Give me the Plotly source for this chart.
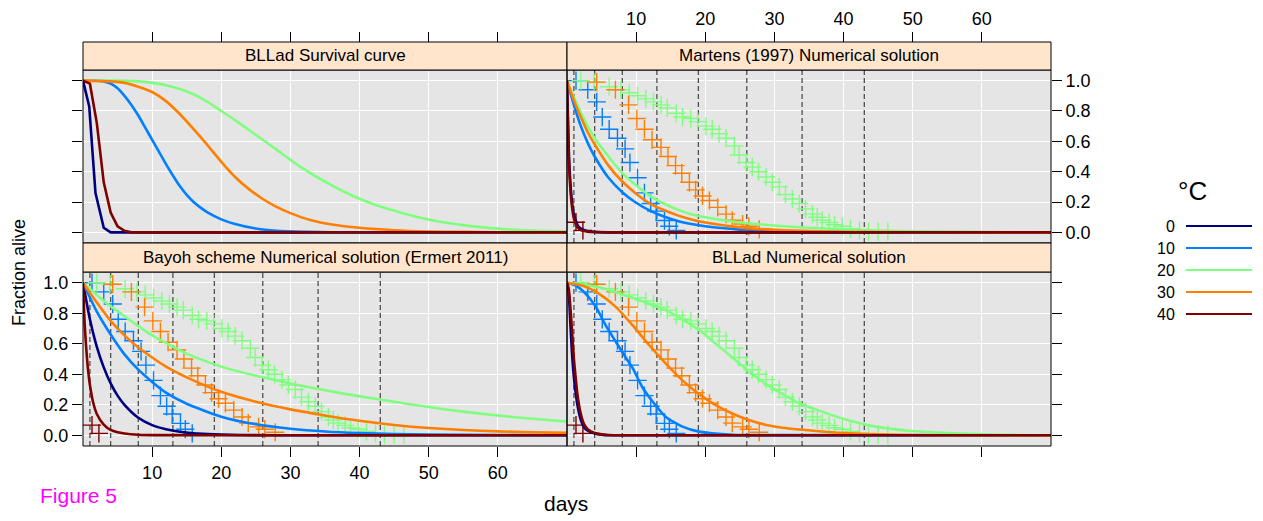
import plotly.graph_objects as go

W, H = 1263, 521
FONT = "Liberation Sans, Arial, Helvetica, sans-serif"

temps = ["0", "10", "20", "30", "40"]
colors = ["#00007F", "#007FFF", "#7FFF7F", "#FF7F00", "#7F0000"]
panel_titles = ["BLLad Survival curve",
                "Martens (1997) Numerical solution",
                "Bayoh scheme Numerical solution (Ermert 2011)",
                "BLLad Numerical solution"]
x_ticks = [10, 20, 30, 40, 50, 60]
y_ticks = [0.0, 0.2, 0.4, 0.6, 0.8, 1.0]
x_range = [0, 70]
y_range = [-0.07, 1.07]
obs_dates = [1, 4, 8, 13, 19, 26, 34, 43]

# ---- Panel 1: BLLad Survival curve
A0_d = [0, 0.9, 1.8, 3.0, 4.0, 70]
A0_f = [1, 0.83, 0.26, 0.03, 0.0, 0.0]
A10_d = [0, 2, 3, 4, 5, 6, 7, 8, 9, 10, 11, 12, 13, 14, 15, 16, 17, 18, 20, 22, 25, 28, 32, 36, 70]
A10_f = [1, 1.0, 0.995, 0.98, 0.95, 0.9, 0.84, 0.77, 0.69, 0.61, 0.53, 0.45, 0.375, 0.305, 0.247, 0.2, 0.163, 0.132, 0.086, 0.055, 0.025, 0.01, 0.003, 0.001, 0]
A20_d = [0, 5, 8, 10, 12, 14, 16, 18, 20, 22, 24, 26, 28, 30, 32, 34, 36, 38, 40, 43, 46, 50, 55, 60, 65, 70]
A20_f = [1, 1.0, 0.995, 0.985, 0.97, 0.945, 0.91, 0.86, 0.80, 0.74, 0.675, 0.61, 0.545, 0.478, 0.415, 0.36, 0.31, 0.263, 0.222, 0.17, 0.13, 0.085, 0.048, 0.025, 0.012, 0.006]
A30_d = [0, 4, 6, 8, 10, 12, 14, 16, 18, 20, 22, 24, 26, 28, 30, 33, 36, 40, 45, 50, 55, 60, 70]
A30_f = [1, 0.995, 0.985, 0.96, 0.925, 0.865, 0.78, 0.68, 0.575, 0.465, 0.365, 0.285, 0.22, 0.168, 0.127, 0.08, 0.052, 0.03, 0.014, 0.006, 0.003, 0.001, 0]
A40_d = [0, 1.0, 2.0, 3.0, 4.0, 5.0, 6.0, 7.0, 70]
A40_f = [1, 0.98, 0.72, 0.33, 0.13, 0.04, 0.01, 0.0, 0.0]

# ---- Panel 2: Martens (1997) Numerical solution
B0_d = [0, 0.25, 0.5, 0.75, 1, 1.5, 2, 3, 4, 6, 70]
B0_f = [1, 0.55, 0.32, 0.19, 0.12, 0.05, 0.025, 0.008, 0.003, 0, 0]
B10_d = [0, 1, 2, 3, 4, 6, 8, 10, 12, 14, 16, 18, 20, 25, 30, 40, 70]
B10_f = [1, 0.84, 0.70, 0.59, 0.50, 0.36, 0.265, 0.195, 0.143, 0.104, 0.075, 0.055, 0.04, 0.018, 0.008, 0.002, 0]
B20_d = [0, 1, 2, 3, 4, 6, 8, 10, 12, 14, 16, 18, 20, 25, 30, 35, 40, 45, 50, 60, 70]
B20_f = [1, 0.89, 0.79, 0.70, 0.62, 0.50, 0.39, 0.31, 0.24, 0.19, 0.15, 0.12, 0.10, 0.065, 0.045, 0.03, 0.02, 0.012, 0.007, 0.002, 0]
B30_d = [0, 1, 2, 3, 4, 6, 8, 10, 12, 14, 16, 18, 20, 25, 30, 35, 40, 50, 70]
B30_f = [1, 0.87, 0.76, 0.66, 0.58, 0.44, 0.335, 0.255, 0.19, 0.147, 0.112, 0.085, 0.065, 0.033, 0.017, 0.009, 0.004, 0.001, 0]
B40_d = [0, 0.25, 0.5, 0.75, 1, 1.5, 2, 3, 4, 6, 70]
B40_f = [1, 0.5, 0.28, 0.16, 0.09, 0.035, 0.015, 0.005, 0.002, 0, 0]

# ---- Panel 3: Bayoh scheme Numerical solution (Ermert 2011)
C0_d = [0, 1, 2, 3, 4, 5, 6, 8, 10, 12, 14, 16, 18, 20, 25, 30, 70]
C0_f = [1, 0.76, 0.58, 0.445, 0.34, 0.26, 0.2, 0.115, 0.067, 0.04, 0.023, 0.013, 0.008, 0.0045, 0.001, 0, 0]
C10_d = [0, 2, 4, 6, 8, 10, 12, 15, 20, 25, 30, 35, 40, 45, 50, 60, 70]
C10_f = [1, 0.81, 0.66, 0.53, 0.43, 0.35, 0.28, 0.207, 0.122, 0.072, 0.043, 0.025, 0.015, 0.009, 0.005, 0.002, 0.001]
C20_d = [0, 2, 4, 6, 8, 10, 12, 15, 20, 25, 30, 35, 40, 45, 50, 55, 60, 65, 70]
C20_f = [1, 0.92, 0.845, 0.78, 0.715, 0.655, 0.605, 0.535, 0.45, 0.39, 0.34, 0.295, 0.255, 0.22, 0.185, 0.155, 0.13, 0.108, 0.09]
C30_d = [0, 2, 4, 6, 8, 10, 12, 15, 20, 25, 30, 35, 40, 45, 50, 55, 60, 65, 70]
C30_f = [1, 0.87, 0.75, 0.655, 0.575, 0.51, 0.45, 0.38, 0.285, 0.22, 0.17, 0.13, 0.095, 0.068, 0.048, 0.035, 0.026, 0.02, 0.016]
C40_d = [0, 0.25, 0.5, 0.75, 1, 1.5, 2, 3, 4, 5, 6, 8, 10, 70]
C40_f = [1, 0.72, 0.55, 0.42, 0.33, 0.21, 0.14, 0.07, 0.035, 0.02, 0.012, 0.004, 0.001, 0]

# ---- Panel 4: BLLad Numerical solution
D0_d = [0, 0.25, 0.5, 0.75, 1, 1.25, 1.5, 2, 2.5, 3, 4, 5, 6, 70]
D0_f = [1, 0.93, 0.72, 0.52, 0.38, 0.28, 0.2, 0.1, 0.05, 0.03, 0.012, 0.004, 0, 0]
D10_d = [0, 1.3, 2.75, 4.2, 5.6, 7.1, 8.5, 9.5, 10.9, 12.4, 14.3, 16.7, 19.1, 23.9, 30, 70]
D10_f = [1, 0.98, 0.925, 0.84, 0.72, 0.61, 0.51, 0.44, 0.315, 0.22, 0.12, 0.057, 0.024, 0.004, 0.001, 0]
D20_d = [0, 4.7, 9.5, 14.3, 19.1, 21.5, 23.9, 26.3, 28.8, 31.2, 33.6, 36, 39.8, 44.6, 49.4, 54.2, 59, 63.8, 70]
D20_f = [1, 0.97, 0.90, 0.82, 0.69, 0.60, 0.51, 0.42, 0.335, 0.27, 0.21, 0.17, 0.11, 0.057, 0.03, 0.017, 0.008, 0.003, 0]
D30_d = [0, 2.3, 4.7, 7.1, 9.5, 11.9, 14.3, 16.7, 19.1, 21.5, 23.9, 26.3, 28.8, 31.2, 33.6, 36, 40, 45, 50, 60, 70]
D30_f = [1, 0.98, 0.925, 0.84, 0.72, 0.59, 0.47, 0.36, 0.27, 0.198, 0.143, 0.1, 0.068, 0.05, 0.038, 0.028, 0.015, 0.006, 0.002, 0, 0]
D40_d = [0, 0.25, 0.5, 0.75, 1, 1.25, 1.5, 2, 2.5, 3, 4, 5, 6, 8, 70]
D40_f = [1, 0.96, 0.83, 0.67, 0.5, 0.38, 0.27, 0.14, 0.07, 0.04, 0.015, 0.006, 0.002, 0, 0]

# ---- Observations (same in panels 2-4)
obs10_d = [1.3, 3.0, 4.3, 5.1, 6.1, 7.3, 8.4, 9.1, 10.2, 11.2, 12.1, 12.9, 14.1, 14.8, 15.8]
obs10_f = [1.0, 0.94, 0.86, 0.76, 0.68, 0.62, 0.55, 0.46, 0.36, 0.26, 0.19, 0.14, 0.078, 0.04, 0.013]
obs20_d = [2.0, 3.9, 6.1, 7.8, 9.0, 10.2, 11.4, 12.5, 13.6, 14.5, 15.8, 16.7, 17.9, 18.9, 20.1, 21.0,
           22.0, 23.0, 24.2, 24.9, 25.9, 26.8, 27.7, 28.8, 29.7, 30.7, 31.6, 32.6, 33.6, 34.5, 35.5,
           36.2, 36.9, 37.9, 38.7, 39.8, 41.0, 42.3, 43.6, 45.0, 46.4]
obs20_f = [1.0, 0.99, 0.96, 0.94, 0.92, 0.90, 0.88, 0.86, 0.84, 0.82, 0.785, 0.76, 0.75, 0.73, 0.70, 0.68,
           0.65, 0.62, 0.57, 0.51, 0.46, 0.43, 0.40, 0.365, 0.33, 0.30, 0.25, 0.22, 0.19, 0.155, 0.12,
           0.10, 0.08, 0.065, 0.05, 0.04, 0.025, 0.013, 0.005, 0.005, 0.005]
obs30_d = [4.3, 7.0, 8.9, 10.1, 11.2, 12.3, 13.6, 14.6, 15.7, 16.6, 17.7, 18.6, 19.6, 20.6, 21.8, 23.0,
           23.9, 25.4, 26.3, 27.8]
obs30_f = [0.99, 0.94, 0.84, 0.75, 0.68, 0.61, 0.56, 0.50, 0.44, 0.39, 0.33, 0.28, 0.24, 0.21, 0.165, 0.12,
           0.08, 0.055, 0.04, 0.02]
obs40_d = [1.3, 2.3]
obs40_f = [0.067, 0.013]

curves = {
    1: [(A0_d, A0_f), (A10_d, A10_f), (A20_d, A20_f), (A30_d, A30_f), (A40_d, A40_f)],
    2: [(B0_d, B0_f), (B10_d, B10_f), (B20_d, B20_f), (B30_d, B30_f), (B40_d, B40_f)],
    3: [(C0_d, C0_f), (C10_d, C10_f), (C20_d, C20_f), (C30_d, C30_f), (C40_d, C40_f)],
    4: [(D0_d, D0_f), (D10_d, D10_f), (D20_d, D20_f), (D30_d, D30_f), (D40_d, D40_f)],
}
observations = [None, (obs10_d, obs10_f), (obs20_d, obs20_f), (obs30_d, obs30_f), (obs40_d, obs40_f)]

# ---- layout geometry (pixels -> paper)
def fx(p):
    return p / W

def fy(p):
    return 1 - p / H

col_dom = [[fx(83), fx(567)], [fx(567), fx(1051)]]
row_dom = [[fy(243), fy(70)], [fy(446), fy(272)]]
strip_dom = [[fy(70), fy(42)], [fy(272), fy(243)]]
pos = {1: (0, 0), 2: (1, 0), 3: (0, 1), 4: (1, 1)}

fig = go.Figure()

for p in (1, 2, 3, 4):
    xa = "x" if p == 1 else f"x{p}"
    ya = "y" if p == 1 else f"y{p}"
    if p != 1:
        vx, vy = [], []
        for d in obs_dates:
            vx += [d, d, None]
            vy += [y_range[0], y_range[1], None]
        fig.add_trace(go.Scatter(
            x=vx, y=vy, mode="lines", xaxis=xa, yaxis=ya,
            line=dict(color="#505050", width=1.3, dash="5px,3px"),
            showlegend=False, hoverinfo="skip", connectgaps=False))
        for i, obs in enumerate(observations):
            if obs is None:
                continue
            fig.add_trace(go.Scatter(
                x=obs[0], y=obs[1], mode="markers", xaxis=xa, yaxis=ya,
                marker=dict(symbol="cross-thin", size=13, color=colors[i],
                            line=dict(color=colors[i], width=1.4)),
                showlegend=False, hoverinfo="skip"))
    for i, (d, f) in enumerate(curves[p]):
        kinked = (p == 1 and i in (0, 4))
        fig.add_trace(go.Scatter(
            x=d, y=f, mode="lines", xaxis=xa, yaxis=ya,
            line=dict(color=colors[i], width=2.6,
                      shape="linear" if kinked else "spline",
                      smoothing=0.6),
            showlegend=False, hoverinfo="skip"))

axis_x = dict(range=x_range, tickvals=x_ticks, showgrid=True, gridcolor="white", gridwidth=1,
              zeroline=False, showline=False, ticks="outside", ticklen=10, tickwidth=1,
              tickcolor="black", tickfont=dict(size=18, color="black"), fixedrange=True)
axis_y = dict(range=y_range, tickvals=y_ticks, tickformat=".1f", showgrid=True,
              gridcolor="white", gridwidth=1, zeroline=False, showline=False, ticks="outside",
              ticklen=10, tickwidth=1, tickcolor="black", tickfont=dict(size=18, color="black"),
              fixedrange=True)

layout_axes = {}
for p in (1, 2, 3, 4):
    c, r = pos[p]
    xk = "xaxis" if p == 1 else f"xaxis{p}"
    yk = "yaxis" if p == 1 else f"yaxis{p}"
    xa = "x" if p == 1 else f"x{p}"
    ya = "y" if p == 1 else f"y{p}"
    xd = dict(axis_x, domain=col_dom[c])
    yd = dict(axis_y, domain=row_dom[r], anchor=xa)
    if r == 0:
        xd.update(anchor="free", position=strip_dom[0][1], side="top",
                  showticklabels=(p == 2))
    else:
        xd.update(anchor=ya, side="bottom", showticklabels=(p == 3))
    if c == 0:
        yd.update(side="left", showticklabels=(p == 3))
    else:
        yd.update(side="right", showticklabels=(p == 2))
    layout_axes[xk] = xd
    layout_axes[yk] = yd

shapes = []
annotations = []
for p in (1, 2, 3, 4):
    c, r = pos[p]
    xa = "x" if p == 1 else f"x{p}"
    ya = "y" if p == 1 else f"y{p}"
    shapes.append(dict(type="rect", xref=f"{xa} domain", yref=f"{ya} domain", x0=0, x1=1, y0=0, y1=1,
                       line=dict(color="black", width=1), fillcolor="rgba(0,0,0,0)", layer="above"))
    shapes.append(dict(type="rect", xref="paper", yref="paper", x0=col_dom[c][0], x1=col_dom[c][1],
                       y0=strip_dom[r][0], y1=strip_dom[r][1], line=dict(color="black", width=1),
                       fillcolor="#FFE5CC", layer="above"))
    annotations.append(dict(text=panel_titles[p - 1], xref="paper", yref="paper",
                            x=(col_dom[c][0] + col_dom[c][1]) / 2,
                            y=(strip_dom[r][0] + strip_dom[r][1]) / 2,
                            showarrow=False, font=dict(size=17, color="black"),
                            xanchor="center", yanchor="middle"))

# legend (custom, text left of line as in the original key)
legend_rows = [226, 248, 270, 292, 314]
annotations.append(dict(text="°C", xref="paper", yref="paper", x=fx(1192), y=fy(191),
                        showarrow=False, font=dict(size=26, color="black"),
                        xanchor="center", yanchor="middle"))
for i, t in enumerate(temps):
    annotations.append(dict(text=t, xref="paper", yref="paper", x=fx(1177), y=fy(legend_rows[i]),
                            showarrow=False, font=dict(size=16, color="black"),
                            xanchor="right", yanchor="middle"))
    shapes.append(dict(type="line", xref="paper", yref="paper", x0=fx(1186), x1=fx(1252),
                       y0=fy(legend_rows[i]), y1=fy(legend_rows[i]),
                       line=dict(color=colors[i], width=2.2)))

annotations.append(dict(text="Fraction alive", xref="paper", yref="paper", x=fx(19), y=fy(273),
                        showarrow=False, textangle=-90, font=dict(size=18, color="black"),
                        xanchor="center", yanchor="middle"))
annotations.append(dict(text="days", xref="paper", yref="paper", x=fx(566), y=fy(503),
                        showarrow=False, font=dict(size=21, color="black"),
                        xanchor="center", yanchor="middle"))
annotations.append(dict(text="Figure 5", xref="paper", yref="paper", x=fx(38), y=fy(495),
                        showarrow=False, font=dict(size=21, color="#FF00FF"),
                        xanchor="left", yanchor="middle"))

fig.update_layout(
    width=W, height=H, margin=dict(l=0, r=0, t=0, b=0),
    paper_bgcolor="white", plot_bgcolor="#E5E5E5",
    font=dict(family=FONT, color="black"),
    showlegend=False, shapes=shapes, annotations=annotations,
    **layout_axes)

fig.write_html("out.html",
               config={"displayModeBar": False},
               post_script="document.body.style.margin='0';document.body.style.overflow='hidden';")
